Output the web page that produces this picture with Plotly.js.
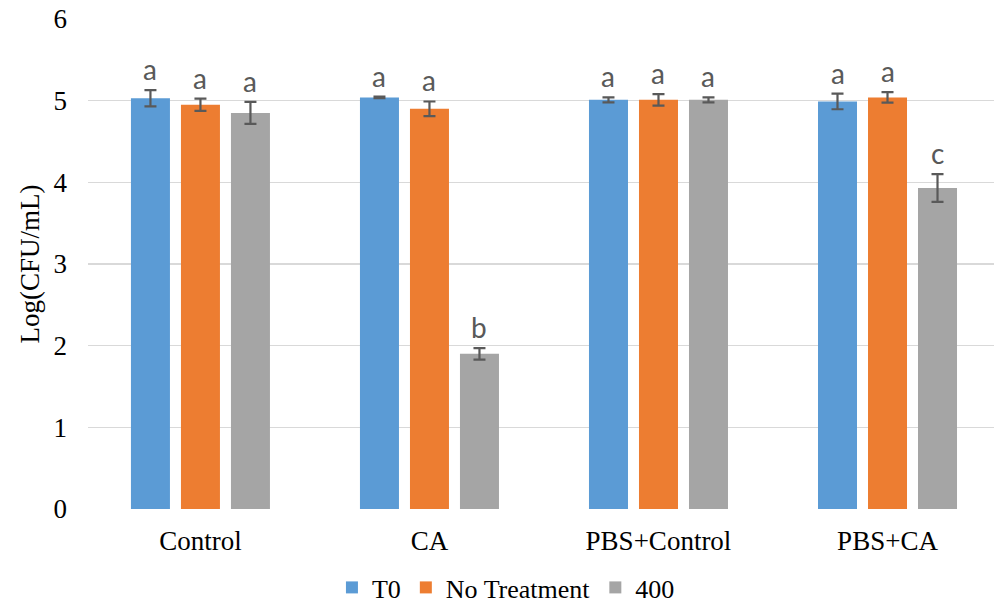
<!DOCTYPE html>
<html><head><meta charset="utf-8">
<script src="https://cdn.plot.ly/plotly-3.0.1.min.js"></script>
<style>body{margin:0;background:#fff}#c{width:994px;height:611px}</style>
</head><body><div id="c"></div>
<script>
const categories = ["Control", "CA", "PBS+Control", "PBS+CA"];
const seriesNames = ["T0", "No Treatment", "400"];
const t0 = [5.03, 5.04, 5.01, 4.99];
const t0Err = [0.10, 0.01, 0.03, 0.095];
const noTreat = [4.95, 4.90, 5.01, 5.04];
const noTreatErr = [0.075, 0.09, 0.07, 0.065];
const p400 = [4.85, 1.90, 5.01, 3.93];
const p400Err = [0.135, 0.07, 0.03, 0.17];
const t0Letters = ["a", "a", "a", "a"];
const noTreatLetters = ["a", "a", "a", "a"];
const p400Letters = ["a", "b", "a", "c"];

const colors = ["#5B9BD5", "#ED7D31", "#A5A5A5"];
const vals = [t0, noTreat, p400];
const errs = [t0Err, noTreatErr, p400Err];
const lets = [t0Letters, noTreatLetters, p400Letters];
const bargap = 0.345, bargroupgap = 0.22;
const xs = categories.map((c, i) => i);
const serif = '"Liberation Serif", "Times New Roman", serif';

const traces = vals.map((v, j) => ({
  type: 'bar', name: seriesNames[j], x: xs, y: v,
  marker: {color: colors[j]},
  error_y: {type: 'data', array: errs[j], visible: true, color: '#595959', thickness: 2.2, width: 6}
}));

const slot = (1 - bargap) / 3;
const annotations = [];
vals.forEach((v, j) => {
  v.forEach((y, i) => {
    annotations.push({
      x: i + (j - 1) * slot, y: y + errs[j][i], xref: 'x', yref: 'y',
      text: lets[j][i], showarrow: false, yanchor: 'bottom', yshift: 2,
      font: {family: 'Lato, "Open Sans", sans-serif', size: 28, color: '#595959'}
    });
  });
});

const layout = {
  width: 994, height: 611,
  margin: {l: 88, r: 0, t: 19, b: 102, autoexpand: false},
  paper_bgcolor: '#fff', plot_bgcolor: '#fff',
  barmode: 'group', bargap: bargap, bargroupgap: bargroupgap,
  showlegend: true,
  legend: {orientation: 'h', x: 0.509, xref: 'container', xanchor: 'center',
    y: -0.014, yref: 'container', yanchor: 'bottom',
    font: {family: serif, size: 26, color: '#000'},
    itemwidth: 30, traceorder: 'normal'},
  xaxis: {
    range: [-0.491, 3.465], tickmode: 'array', tickvals: xs, ticktext: categories,
    showgrid: false, zeroline: false, showline: false, ticks: '', automargin: false,
    ticklabelstandoff: 13,
    tickfont: {family: serif, size: 27, color: '#000'}
  },
  yaxis: {
    range: [0, 6], dtick: 1, tick0: 0, showgrid: true, gridcolor: '#D9D9D9', gridwidth: 1.3,
    zeroline: false, showline: false, ticks: '', automargin: false,
    ticklabelstandoff: 20,
    tickfont: {family: serif, size: 27, color: '#000'},
    title: {text: 'Log(CFU/mL)', standoff: 6,
      font: {family: serif, size: 27, color: '#000'}}
  },
  annotations: annotations
};
Plotly.newPlot('c', traces, layout, {displayModeBar: false, staticPlot: true});
</script></body></html>
